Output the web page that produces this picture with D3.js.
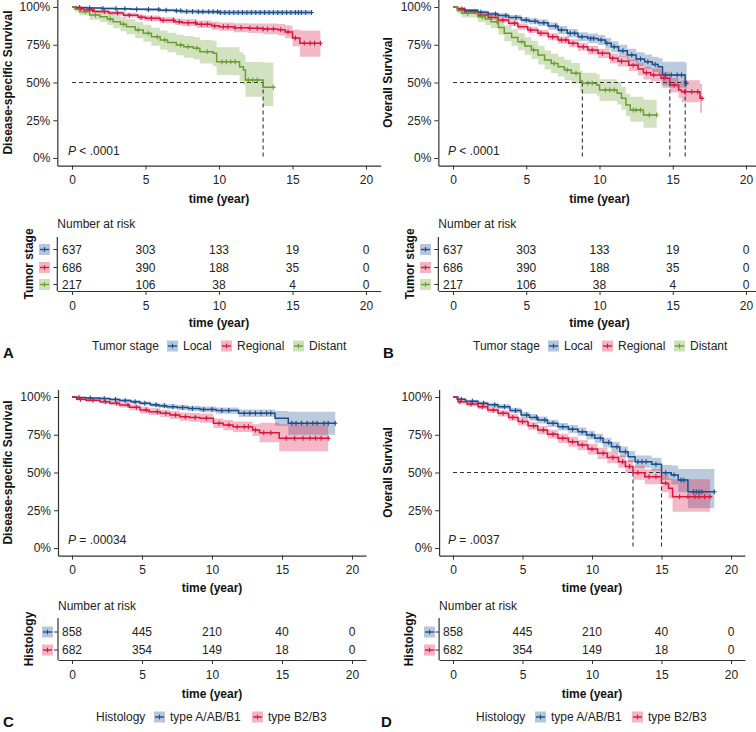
<!DOCTYPE html>
<html><head><meta charset="utf-8">
<script src="https://cdn.jsdelivr.net/npm/d3@7"></script>
<style>html,body{margin:0;padding:0;background:#fff;}svg{display:block;}</style>
</head><body>
<script>
// ---------------- DATA ----------------
const timeTicks = [0, 5, 10, 15, 20];
const survTicks = [0, 25, 50, 75, 100];
const stageGroups = ["Local", "Regional", "Distant"];
const histGroups = ["type A/AB/B1", "type B2/B3"];
const stageRisk = [[637, 303, 133, 19, 0], [686, 390, 188, 35, 0], [217, 106, 38, 4, 0]];
const histRisk = [[858, 445, 210, 40, 0], [682, 354, 149, 18, 0]];
const pValues = ["< .0001", "< .0001", "= .00034", "= .0037"];

// Panel A: disease-specific survival by tumor stage
const dssLocalT  = [0, 0.3, 1, 2, 3, 4, 5, 6, 7, 7.5, 8.5, 10, 16.3];
const dssLocalS  = [100, 99.6, 99.3, 99.0, 98.8, 98.5, 98.4, 97.9, 97.5, 97.0, 96.9, 96.4, 96.4];
const dssLocalLo = [100, 99.2, 98.8, 98.3, 98.0, 97.6, 97.4, 96.8, 96.3, 95.7, 95.5, 94.9, 94.8];
const dssLocalHi = [100, 100, 99.8, 99.6, 99.5, 99.3, 99.3, 98.9, 98.7, 98.3, 98.2, 97.9, 98.0];
const dssLocalCens = [0.5, 1.2, 2.1, 3.0, 3.6, 4.4, 5.2, 5.9, 6.4, 7.1, 7.4, 7.8, 8.2, 8.6, 8.9, 9.3, 9.6, 9.9, 10.1, 10.4, 10.7, 11.0, 11.3, 11.6, 11.9, 12.2, 12.5, 12.8, 13.1, 13.4, 13.7, 14.0, 14.3, 14.6, 14.9, 15.2, 15.4, 15.6, 15.9, 16.3];

const dssRegT  = [0, 0.3, 0.8, 1.5, 2.5, 3.5, 4.5, 5, 6, 7, 7.5, 8.5, 9.5, 10, 11, 12, 13, 14, 14.5, 15, 15.5, 16.9];
const dssRegS  = [100, 98.8, 98.0, 97.0, 96.0, 94.6, 93.2, 92.5, 91.2, 90.2, 89.6, 88.6, 87.6, 87.0, 86.3, 85.9, 85.5, 85.0, 83.5, 79.5, 76.0, 76.0];
const dssRegLo = [100, 98.0, 97.0, 95.8, 94.6, 93.0, 91.4, 90.6, 89.2, 88.0, 87.3, 86.1, 84.9, 84.2, 83.3, 82.7, 82.0, 81.2, 79.3, 74.0, 67.0, 67.0];
const dssRegHi = [100, 99.6, 99.0, 98.2, 97.4, 96.2, 95.0, 94.4, 93.2, 92.4, 91.9, 91.1, 90.3, 89.8, 89.3, 89.1, 89.0, 88.8, 87.7, 85.0, 84.5, 84.5];
const dssRegCens = [0.6, 1.4, 2.2, 3.1, 3.9, 4.7, 5.4, 6.2, 6.9, 7.3, 7.9, 8.4, 8.8, 9.2, 9.7, 10.3, 10.6, 11.1, 11.5, 12.1, 12.6, 13.0, 13.3, 13.7, 14.2, 14.7, 15.2, 15.8, 16.2, 16.5, 16.9];

const dssDistT  = [0, 0.2, 0.5, 1.2, 1.9, 2.4, 2.8, 3.3, 3.7, 4.3, 4.85, 5.4, 6.0, 6.5, 7.1, 7.6, 8.25, 8.7, 9.6, 9.84, 11.4, 11.66, 11.8, 13.0, 13.7];
const dssDistS  = [100, 98.5, 96.9, 94.7, 93.6, 92.0, 90.3, 88.6, 87.0, 84.8, 82.6, 80.3, 78.1, 76.5, 74.8, 73.6, 72.6, 70.4, 69.3, 63.8, 60.5, 58.3, 51.7, 46.8, 46.8];
const dssDistLo = [100, 97.0, 94.6, 91.6, 90.0, 88.0, 86.0, 84.0, 82.0, 79.4, 77.0, 74.4, 71.8, 70.0, 68.0, 66.4, 65.2, 62.6, 61.0, 55.0, 51.0, 48.4, 40.5, 34.5, 34.5];
const dssDistHi = [100, 100, 99.1, 97.8, 97.2, 96.0, 94.6, 93.2, 92.0, 90.2, 88.2, 86.2, 84.4, 83.0, 81.6, 80.8, 80.0, 78.2, 77.6, 73.4, 70.0, 68.2, 63.5, 63.2, 63.2];
const dssDistCens = [0.9, 1.6, 2.6, 3.5, 4.5, 5.2, 5.8, 6.3, 7.4, 7.9, 8.5, 9.2, 10.2, 10.5, 10.8, 11.1, 12.0, 12.3, 12.6, 13.7];

// Panel B: overall survival by tumor stage
const osLocalT  = [0, 0.3, 0.8, 1.7, 2.4, 3.07, 3.8, 4.66, 5.2, 5.8, 6.5, 7.17, 7.8, 8.53, 9.2, 9.9, 10.4, 10.8, 11.3, 11.9, 12.5, 13.08, 13.6, 14.0, 14.3, 15.85, 15.95];
const osLocalS  = [100, 99.0, 97.8, 96.5, 95.4, 94.3, 93.0, 91.4, 90.6, 89.6, 87.4, 84.8, 82.6, 80.3, 79.2, 78.1, 76.0, 73.7, 71.0, 68.2, 65.5, 63.8, 62.0, 60.5, 55.0, 49.5, 49.5];
const osLocalLo = [100, 98.4, 97.0, 95.4, 94.1, 92.8, 91.3, 89.5, 88.6, 87.4, 85.0, 82.2, 79.8, 77.3, 76.0, 74.8, 72.5, 70.0, 67.0, 64.0, 61.0, 59.0, 57.0, 55.0, 46.5, 41.0, 41.0];
const osLocalHi = [100, 99.6, 98.6, 97.6, 96.7, 95.8, 94.7, 93.3, 92.6, 91.8, 89.8, 87.4, 85.4, 83.3, 82.4, 81.4, 79.5, 77.4, 75.0, 72.4, 70.0, 68.6, 67.0, 66.0, 63.8, 63.0, 63.0];
const osLocalCens = [0.8, 1.9, 2.9, 3.6, 4.3, 5.0, 5.6, 6.2, 7.0, 7.4, 8.0, 8.3, 8.8, 9.4, 9.6, 10.1, 10.5, 11.0, 11.6, 12.2, 12.8, 13.3, 13.8, 14.5, 14.9, 15.3, 15.6, 15.95];

const osRegT  = [0, 0.3, 0.77, 1.7, 2.4, 3.07, 3.8, 4.43, 5.1, 5.8, 6.5, 7.17, 7.9, 8.53, 9.2, 9.9, 10.7, 11.26, 12.0, 12.63, 13.0, 13.5, 14.2, 14.8, 15.4, 15.6, 16.86, 17.0];
const osRegS  = [100, 98.6, 96.9, 94.7, 93.0, 91.4, 89.2, 87.0, 84.8, 82.6, 80.3, 78.1, 76.0, 73.7, 71.5, 69.3, 66.0, 64.0, 61.5, 59.0, 56.5, 55.0, 52.8, 48.3, 45.0, 43.9, 39.5, 39.5];
const osRegLo = [100, 97.8, 95.9, 93.5, 91.6, 89.8, 87.4, 85.0, 82.7, 80.4, 78.0, 75.7, 73.4, 71.0, 68.6, 66.3, 62.8, 60.6, 57.6, 54.8, 52.0, 50.6, 48.0, 43.4, 39.8, 37.0, 30.0, 30.0];
const osRegHi = [100, 99.4, 97.9, 95.9, 94.4, 93.0, 91.0, 89.0, 86.9, 84.8, 82.6, 80.5, 78.6, 76.4, 74.4, 72.3, 69.2, 67.4, 65.2, 62.9, 60.6, 59.2, 57.2, 53.0, 50.5, 51.5, 49.0, 49.0];
const osRegCens = [0.6, 1.5, 2.6, 3.4, 4.2, 5.3, 6.0, 6.8, 7.4, 7.7, 8.2, 8.9, 9.5, 10.2, 10.9, 11.5, 12.3, 13.2, 13.7, 14.4, 15.1, 15.8, 16.3, 16.7, 17.0];

const osDistT  = [0, 0.3, 0.6, 1.7, 2.2, 2.6, 3.1, 3.5, 4.0, 4.43, 4.9, 5.35, 5.8, 6.25, 6.7, 7.17, 7.6, 8.08, 8.67, 8.83, 9.8, 10.0, 11.2, 11.5, 11.8, 12.1, 13.0, 13.9];
const osDistS  = [100, 97.5, 95.8, 93.6, 92.0, 90.3, 86.5, 82.6, 79.8, 77.0, 74.2, 71.5, 68.2, 64.9, 62.6, 60.5, 58.3, 56.1, 51.0, 49.5, 48.3, 45.0, 42.8, 39.5, 35.1, 31.8, 28.5, 28.5];
const osDistLo = [100, 95.5, 93.0, 90.0, 88.0, 85.9, 81.7, 77.4, 74.4, 71.4, 68.4, 65.5, 62.0, 58.6, 56.2, 54.0, 51.6, 49.3, 44.0, 42.5, 41.2, 37.8, 35.4, 32.0, 27.6, 24.0, 20.0, 20.0];
const osDistHi = [100, 99.5, 98.6, 97.2, 96.0, 94.7, 91.3, 87.8, 85.2, 82.6, 80.0, 77.5, 74.4, 71.2, 69.0, 67.0, 65.0, 62.9, 58.0, 56.5, 55.4, 52.2, 50.2, 47.0, 42.6, 40.6, 38.5, 38.5];
const osDistCens = [1.0, 2.0, 3.0, 4.7, 5.5, 6.9, 7.8, 8.4, 9.2, 9.5, 10.4, 10.7, 11.0, 12.3, 12.5, 12.8, 13.4, 13.9];

// Panel C: disease-specific survival by histology
const dssAT  = [0, 0.3, 1, 2, 2.7, 3.4, 4.2, 4.86, 5.6, 6.2, 6.76, 7.5, 8.3, 9.14, 10.3, 11.9, 14.5, 15.45, 18.8];
const dssAS  = [100, 99.6, 99.3, 99.0, 98.4, 97.6, 96.8, 95.8, 94.8, 94.2, 93.6, 93.0, 92.4, 91.8, 91.0, 89.2, 85.9, 82.6, 82.6];
const dssALo = [100, 99.2, 98.7, 98.2, 97.5, 96.6, 95.6, 94.5, 93.4, 92.7, 92.0, 91.3, 90.6, 89.9, 88.9, 86.7, 81.0, 75.0, 75.0];
const dssAHi = [100, 100, 99.8, 99.6, 99.2, 98.6, 98.0, 97.1, 96.2, 95.7, 95.2, 94.7, 94.2, 93.7, 93.1, 91.7, 90.8, 90.3, 90.3];
const dssACens = [0.5, 1.3, 2.3, 3.1, 3.8, 4.5, 5.2, 6.0, 6.6, 7.2, 7.9, 8.6, 9.4, 10.0, 10.7, 11.2, 12.3, 12.7, 13.1, 13.5, 13.9, 14.2, 15.7, 16.0, 16.4, 16.8, 17.2, 17.5, 18.0, 18.3, 18.8];

const dssBT  = [0, 0.33, 1, 2, 2.7, 3.4, 4.1, 4.86, 5.5, 6.3, 7.0, 7.7, 8.4, 9.14, 10.1, 10.8, 11.5, 12.9, 13.4, 14.8, 18.3];
const dssBS  = [100, 98.5, 97.8, 96.9, 95.9, 94.7, 93.2, 91.4, 90.3, 89.2, 88.0, 87.0, 86.5, 86.0, 82.6, 81.4, 80.3, 78.1, 76.3, 72.6, 72.6];
const dssBLo = [100, 97.6, 96.7, 95.6, 94.4, 93.0, 91.3, 89.3, 88.0, 86.8, 85.4, 84.2, 83.6, 83.0, 79.4, 78.0, 76.8, 74.2, 70.0, 64.0, 64.0];
const dssBHi = [100, 99.4, 98.9, 98.2, 97.4, 96.4, 95.1, 93.5, 92.6, 91.6, 90.6, 89.8, 89.4, 89.0, 85.8, 84.8, 83.8, 82.0, 83.0, 82.0, 82.0];
const dssBCens = [0.6, 1.5, 2.4, 3.2, 4.0, 4.6, 5.3, 6.1, 6.7, 7.4, 8.1, 8.8, 9.6, 10.5, 11.2, 11.8, 12.3, 12.6, 13.1, 13.7, 14.2, 15.3, 15.9, 16.5, 17.0, 17.4, 17.8, 18.3];

// Panel D: overall survival by histology
const osAT  = [0, 0.3, 0.9, 1.8, 2.5, 3.24, 4.1, 4.9, 5.5, 6.1, 6.8, 7.55, 8.3, 8.99, 9.6, 10.2, 10.8, 11.4, 12.0, 12.6, 13.1, 14.3, 15.0, 15.7, 16.2, 16.9, 18.8];
const osAS  = [100, 98.5, 97.2, 95.8, 94.8, 93.6, 91.0, 88.1, 86.5, 84.8, 82.6, 80.3, 78.7, 77.0, 74.8, 72.6, 69.8, 67.1, 63.8, 60.5, 57.2, 55.5, 49.8, 48.3, 45.0, 37.3, 37.3];
const osALo = [100, 97.8, 96.2, 94.6, 93.4, 92.0, 89.2, 86.0, 84.3, 82.5, 80.2, 77.8, 76.0, 74.2, 71.9, 69.6, 66.6, 63.8, 60.3, 56.8, 53.2, 51.2, 45.0, 42.0, 37.0, 26.3, 26.3];
const osAHi = [100, 99.2, 98.2, 97.0, 96.2, 95.2, 92.8, 90.2, 88.7, 87.1, 85.0, 82.8, 81.4, 79.8, 77.7, 75.6, 73.0, 70.4, 67.3, 64.2, 61.2, 59.8, 55.0, 54.6, 52.3, 52.3, 52.3];
const osACens = [0.6, 1.4, 2.2, 3.0, 3.7, 4.5, 5.3, 6.0, 6.6, 7.2, 7.9, 8.6, 9.3, 10.0, 10.6, 11.2, 11.8, 12.4, 13.3, 13.6, 13.9, 14.6, 15.3, 15.9, 16.4, 16.6, 17.3, 17.5, 17.7, 17.9, 18.8];

const osBT  = [0, 0.36, 1.0, 1.8, 2.5, 3.24, 4.0, 4.68, 5.4, 6.1, 6.8, 7.55, 8.3, 8.99, 9.7, 10.4, 11.1, 11.9, 12.4, 12.95, 13.8, 15.0, 15.5, 15.8, 18.5];
const osBS  = [100, 96.9, 95.3, 93.6, 91.4, 89.2, 86.5, 83.7, 80.9, 78.1, 75.4, 72.6, 70.4, 68.2, 65.5, 62.7, 60.0, 57.2, 54.0, 49.8, 47.2, 42.8, 39.5, 34.0, 34.0];
const osBLo = [100, 95.6, 93.8, 91.9, 89.5, 87.1, 84.2, 81.2, 78.3, 75.4, 72.5, 69.5, 67.1, 64.8, 61.9, 59.0, 56.1, 53.1, 49.7, 45.2, 42.2, 37.0, 33.0, 24.0, 24.0];
const osBHi = [100, 98.2, 96.8, 95.3, 93.3, 91.3, 88.8, 86.2, 83.5, 80.8, 78.3, 75.7, 73.7, 71.6, 69.1, 66.4, 63.9, 61.3, 58.3, 54.4, 52.2, 48.6, 46.0, 45.5, 45.5];
const osBCens = [0.5, 1.3, 2.1, 2.9, 3.6, 4.3, 5.0, 5.8, 6.5, 7.2, 7.9, 8.6, 9.3, 10.0, 10.8, 11.5, 12.2, 12.7, 13.3, 14.1, 14.6, 15.3, 16.3, 16.9, 17.4, 17.7, 18.1, 18.5];

// ---------------- STYLE ----------------
const COL = { blue: "#1d4f8e", red: "#dc1641", green: "#6a9f2f" };
const FONT = "'Liberation Sans', Arial, Helvetica, sans-serif";
const FS = 12;
const INK = "#222";
const AXIS = "#333";

function curve(t, s, lo, hi, cens, color) { return { t, s, lo, hi, cens, color }; }

const panels = [
  { letter: "A", ylab: "Disease-specific Survival", p: pValues[0],
    t0: 72, t20: 366, y100: 7, y0: 158, ytX: 8, pX: 68, pY: 155,
    timeY: 203, nrY: 228, rowsY: [249.5, 267.5, 284.5], rAxisY: 291, rTop: 237,
    rTickY: 310, rTimeY: 327, grpX: 28.5, keyX: 39, grp: "Tumor stage", groups: stageGroups, risk: stageRisk,
    legY: 350, legTitleX: 92, legKeys: [167, 221, 293], letX: 3, letY: 358,
    curves: [curve(dssLocalT, dssLocalS, dssLocalLo, dssLocalHi, dssLocalCens, COL.blue),
             curve(dssRegT, dssRegS, dssRegLo, dssRegHi, dssRegCens, COL.red),
             curve(dssDistT, dssDistS, dssDistLo, dssDistHi, dssDistCens, COL.green)] },
  { letter: "B", ylab: "Overall Survival", p: pValues[1],
    t0: 453, t20: 746, y100: 7, y0: 158, ytX: 387.5, pX: 448, pY: 155,
    timeY: 203, nrY: 228, rowsY: [249.5, 267.5, 284.5], rAxisY: 291, rTop: 237,
    rTickY: 310, rTimeY: 327, grpX: 409.5, keyX: 420, grp: "Tumor stage", groups: stageGroups, risk: stageRisk,
    legY: 350, legTitleX: 473, legKeys: [548, 602, 674], letX: 383, letY: 358,
    curves: [curve(osLocalT, osLocalS, osLocalLo, osLocalHi, osLocalCens, COL.blue),
             curve(osRegT, osRegS, osRegLo, osRegHi, osRegCens, COL.red),
             curve(osDistT, osDistS, osDistLo, osDistHi, osDistCens, COL.green)] },
  { letter: "C", ylab: "Disease-specific Survival", p: pValues[2],
    t0: 72, t20: 352, y100: 397, y0: 548, ytX: 8, pX: 68, pY: 544,
    timeY: 592, nrY: 610, rowsY: [632, 650], rAxisY: 660, rTop: 618,
    rTickY: 681, rTimeY: 698, grpX: 29, keyX: 42, grp: "Histology", groups: histGroups, risk: histRisk,
    legY: 721, legTitleX: 96, legKeys: [154, 252], letX: 3, letY: 727,
    curves: [curve(dssAT, dssAS, dssALo, dssAHi, dssACens, COL.blue),
             curve(dssBT, dssBS, dssBLo, dssBHi, dssBCens, COL.red)] },
  { letter: "D", ylab: "Overall Survival", p: pValues[3],
    t0: 453, t20: 731, y100: 397, y0: 548, ytX: 387.5, pX: 448, pY: 544,
    timeY: 592, nrY: 610, rowsY: [632, 650], rAxisY: 660, rTop: 618,
    rTickY: 681, rTimeY: 698, grpX: 409, keyX: 424, grp: "Histology", groups: histGroups, risk: histRisk,
    legY: 721, legTitleX: 476, legKeys: [535, 632], letX: 381, letY: 727,
    curves: [curve(osAT, osAS, osALo, osAHi, osACens, COL.blue),
             curve(osBT, osBS, osBLo, osBHi, osBCens, COL.red)] }
];

const svg = d3.select("body").append("svg")
  .attr("width", 756).attr("height", 732)
  .style("font-family", FONT);

function valueAt(c, t) {
  let v = c.s[0];
  for (let i = 0; i < c.t.length; i++) { if (c.t[i] <= t) v = c.s[i]; }
  return v;
}

function styleAxis(g) {
  g.select(".domain").attr("stroke", AXIS).attr("stroke-width", 1.2);
  g.selectAll(".tick line").attr("stroke", AXIS).attr("stroke-width", 1);
  g.selectAll(".tick text").attr("fill", INK).style("font-size", FS + "px").style("font-family", FONT);
}

function keyGlyph(g, x, yc, color) {
  g.append("rect").attr("x", x).attr("y", yc - 5.5).attr("width", 11).attr("height", 11)
    .attr("fill", color).attr("fill-opacity", 0.32);
  g.append("line").attr("x1", x + 1).attr("x2", x + 10).attr("y1", yc).attr("y2", yc)
    .attr("stroke", color).attr("stroke-width", 1.4);
  g.append("line").attr("x1", x + 5.5).attr("x2", x + 5.5).attr("y1", yc - 2.4).attr("y2", yc + 2.4)
    .attr("stroke", color).attr("stroke-width", 1.1);
}

panels.forEach(P => {
  const g = svg.append("g");
  const k = (P.t20 - P.t0) / 20;
  const x = d3.scaleLinear().domain([-1, 21]).range([P.t0 - k, P.t20 + k]);
  const yk = (P.y0 - P.y100) / 100;
  const y = d3.scaleLinear().domain([-5, 105]).range([P.y0 + 5 * yk, P.y100 - 5 * yk]);

  // confidence bands
  P.curves.forEach(c => {
    const pts = c.t.map((t, i) => ({ t, lo: c.lo[i], hi: c.hi[i] }));
    g.append("path")
      .attr("d", d3.area().x(d => x(d.t)).y0(d => y(d.lo)).y1(d => y(d.hi)).curve(d3.curveStepAfter)(pts))
      .attr("fill", c.color).attr("fill-opacity", 0.3).attr("stroke", "none");
  });

  // median lines
  const meds = [];
  P.curves.forEach(c => {
    const i = c.s.findIndex(v => v <= 50);
    if (i >= 0) meds.push(c.t[i]);
  });
  if (meds.length) {
    const mx = d3.max(meds);
    g.append("line").attr("x1", x(0)).attr("x2", x(mx)).attr("y1", y(50)).attr("y2", y(50))
      .attr("stroke", "#333").attr("stroke-width", 1.1).attr("stroke-dasharray", "4,3");
    meds.forEach(m => {
      g.append("line").attr("x1", x(m)).attr("x2", x(m)).attr("y1", y(50)).attr("y2", y(0))
        .attr("stroke", "#333").attr("stroke-width", 1.1).attr("stroke-dasharray", "4,3");
    });
  }

  // survival curves
  P.curves.forEach(c => {
    const pts = c.t.map((t, i) => ({ t, s: c.s[i] }));
    g.append("path")
      .attr("d", d3.line().x(d => x(d.t)).y(d => y(d.s)).curve(d3.curveStepAfter)(pts))
      .attr("fill", "none").attr("stroke", c.color).attr("stroke-width", 1.5);
    c.cens.forEach(t => {
      const cx = x(t), cy = y(valueAt(c, t));
      g.append("path").attr("d", `M${cx - 2.2},${cy}H${cx + 2.2}M${cx},${cy - 2.5}V${cy + 2.5}`)
        .attr("stroke", c.color).attr("stroke-width", 1.1).attr("fill", "none");
    });
  });

  // axes
  const axB = g.append("g").attr("transform", `translate(0,${y(-5)})`)
    .call(d3.axisBottom(x).tickValues(timeTicks).tickSize(4).tickSizeOuter(0).tickPadding(6));
  styleAxis(axB);
  const axL = g.append("g").attr("transform", `translate(${x(-1)},0)`)
    .call(d3.axisLeft(y).tickValues(survTicks).tickFormat(d => d + "%").tickSize(4).tickSizeOuter(0).tickPadding(3));
  styleAxis(axL);

  // y title
  g.append("text").attr("transform", `translate(${P.ytX + 4},${y(50)}) rotate(-90)`)
    .attr("text-anchor", "middle").attr("font-weight", "bold").attr("font-size", FS).attr("fill", "#111")
    .text(P.ylab);
  // p value
  const pt = g.append("text").attr("x", P.pX).attr("y", P.pY).attr("font-size", FS).attr("fill", INK);
  pt.append("tspan").attr("font-style", "italic").text("P");
  pt.append("tspan").text(" " + P.p);
  // x title
  g.append("text").attr("x", x(10)).attr("y", P.timeY).attr("text-anchor", "middle")
    .attr("font-weight", "bold").attr("font-size", FS).attr("fill", "#111").text("time (year)");

  // risk table
  g.append("text").attr("x", x(-1)).attr("y", P.nrY).attr("font-size", FS).attr("fill", INK).text("Number at risk");
  const rAx = g.append("g").attr("transform", `translate(0,${P.rAxisY})`)
    .call(d3.axisBottom(x).tickValues(timeTicks).tickSize(4).tickSizeOuter(0).tickPadding(6));
  styleAxis(rAx);
  g.append("line").attr("x1", x(-1)).attr("x2", x(-1)).attr("y1", P.rTop).attr("y2", P.rAxisY)
    .attr("stroke", AXIS).attr("stroke-width", 1.2);
  P.risk.forEach((row, ri) => {
    const ry = P.rowsY[ri];
    g.append("line").attr("x1", x(-1) - 4).attr("x2", x(-1)).attr("y1", ry).attr("y2", ry)
      .attr("stroke", AXIS).attr("stroke-width", 1);
    row.forEach((v, ti) => {
      g.append("text").attr("x", x(timeTicks[ti])).attr("y", ry + 4.3).attr("text-anchor", "middle")
        .attr("font-size", FS).attr("fill", INK).text(v);
    });
    keyGlyph(g, P.keyX, ry, P.curves[ri].color);
  });
  g.append("text").attr("transform", `translate(${P.grpX + 4},${(P.rTop + P.rAxisY) / 2}) rotate(-90)`)
    .attr("text-anchor", "middle").attr("font-weight", "bold").attr("font-size", FS).attr("fill", "#111")
    .text(P.grp);
  g.append("text").attr("x", x(10)).attr("y", P.rTimeY).attr("text-anchor", "middle")
    .attr("font-weight", "bold").attr("font-size", FS).attr("fill", "#111").text("time (year)");

  // legend
  g.append("text").attr("x", P.legTitleX).attr("y", P.legY).attr("font-size", FS).attr("fill", INK).text(P.grp);
  P.groups.forEach((name, gi) => {
    const kx = P.legKeys[gi];
    keyGlyph(g, kx, P.legY - 4, P.curves[gi].color);
    g.append("text").attr("x", kx + 16).attr("y", P.legY).attr("font-size", FS).attr("fill", INK).text(name);
  });

  // panel letter
  g.append("text").attr("x", P.letX).attr("y", P.letY).attr("font-size", 15).attr("font-weight", "bold")
    .attr("fill", "#111").text(P.letter);
});
</script>
</body></html>
